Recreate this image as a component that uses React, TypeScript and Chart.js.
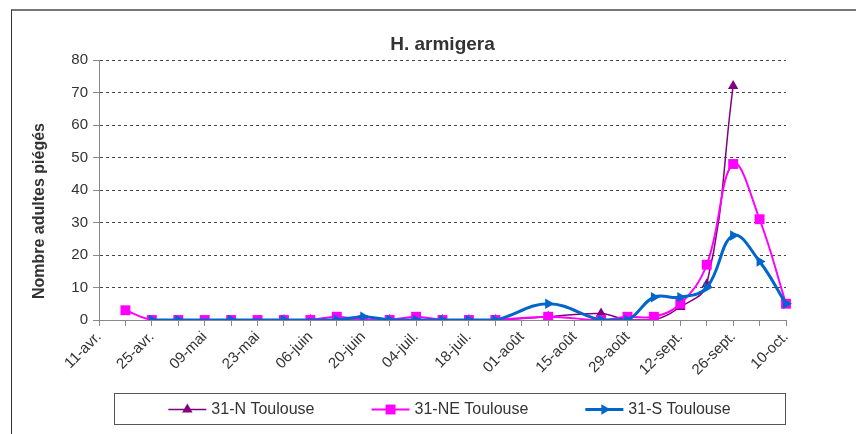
import React, { useEffect, useRef } from "react";
import { Chart, registerables } from "chart.js";

Chart.register(...registerables);

// Weekly dates (labels shown every other week)
const dates = [
  "11-avr.", "18-avr.", "25-avr.", "02-mai", "09-mai", "16-mai", "23-mai", "30-mai",
  "06-juin", "13-juin", "20-juin", "27-juin", "04-juil.", "11-juil.", "18-juil.", "25-juil.",
  "01-août", "08-août", "15-août", "22-août", "29-août", "05-sept.", "12-sept.", "19-sept.",
  "26-sept.", "03-oct.", "10-oct.",
];
const labelEvery = 2;

const seriesN = [null, null, null, null, null, null, null, 0, 0, 0, 0, 0, 0, 0, 0, 0, null, 1, null, 2, 0, 0, 4, 11, 72, null, null];
const seriesNE = [null, 3, 0, 0, 0, 0, 0, 0, 0, 1, 0, 0, 1, 0, 0, 0, null, 1, null, 0, 1, 1, 5, 17, 48, 31, 5];
const seriesS = [null, null, 0, 0, null, 0, null, 0, null, 0, 1, 0, 0, 0, 0, 0, null, 5, null, 0, 0, 7, 7, 10, 26, 18, 5];

const seriesNames = ["31-N Toulouse", "31-NE Toulouse", "31-S Toulouse"];
const yTicks = { min: 0, max: 80, step: 10 };
const chartTitle = "H. armigera";
const yTitle = "Nombre adultes piégés";

const FONT = '"Liberation Sans", Arial, sans-serif';
const TEXT = "#333333";

function drawMarker(ctx: CanvasRenderingContext2D, style: string, x: number, y: number, r: number, color: string) {
  ctx.save();
  ctx.fillStyle = color;
  ctx.beginPath();
  if (style === "rect") {
    const s = r * Math.SQRT1_2;
    ctx.rect(x - s, y - s, 2 * s, 2 * s);
  } else if (style === "triangle-right") {
    ctx.moveTo(x + r, y);
    ctx.lineTo(x - r / 2, y - r * 0.866);
    ctx.lineTo(x - r / 2, y + r * 0.866);
    ctx.closePath();
  } else {
    ctx.moveTo(x, y - r);
    ctx.lineTo(x + r * 0.866, y + r / 2);
    ctx.lineTo(x - r * 0.866, y + r / 2);
    ctx.closePath();
  }
  ctx.fill();
  ctx.restore();
}

const textPlugin = {
  id: "customText",
  afterDraw(chart: any) {
    const { ctx, chartArea } = chart;
    ctx.save();
    // title
    ctx.fillStyle = TEXT;
    ctx.font = `bold 19px ${FONT}`;
    ctx.textAlign = "center";
    ctx.textBaseline = "middle";
    ctx.fillText(chartTitle, (chartArea.left + chartArea.right) / 2, chartArea.top - 15);
    // y title
    ctx.save();
    ctx.translate(40, (chartArea.top + chartArea.bottom) / 2 + 21);
    ctx.rotate(-Math.PI / 2);
    ctx.font = `bold 16px ${FONT}`;
    ctx.fillText(yTitle, 0, 0);
    ctx.restore();

    // legend box
    const left = chartArea.left + 15;
    const right = chartArea.right - 1;
    const top = chartArea.bottom + 73;
    const bottom = top + 31;
    ctx.strokeStyle = "#555";
    ctx.lineWidth = 1;
    ctx.strokeRect(left + 0.5, top + 0.5, right - left, bottom - top);

    ctx.font = `16px ${FONT}`;
    const sample = 38;
    const gapText = 5;
    const gapItems = 57;
    const datasets = chart.data.datasets;
    const widths = datasets.map((d: any) => sample + gapText + ctx.measureText(d.label).width);
    const total = widths.reduce((a: number, b: number) => a + b, 0) + gapItems * (widths.length - 1);
    let x = (left + right) / 2 - total / 2;
    const cy = (top + bottom) / 2 + 1;
    datasets.forEach((d: any, i: number) => {
      ctx.strokeStyle = d.borderColor;
      ctx.lineWidth = d.borderWidth;
      ctx.beginPath();
      ctx.moveTo(x, cy);
      ctx.lineTo(x + sample, cy);
      ctx.stroke();
      drawMarker(ctx, d.legendMarker, x + sample / 2, cy, d.pointRadius, d.borderColor);
      ctx.fillStyle = TEXT;
      ctx.textAlign = "left";
      ctx.textBaseline = "middle";
      ctx.fillText(d.label, x + sample + gapText, cy);
      x += widths[i] + gapItems;
    });
    ctx.restore();
  },
};

export default function App() {
  const ref = useRef<HTMLCanvasElement | null>(null);

  useEffect(() => {
    if (!ref.current) return;
    const chart = new Chart(ref.current, {
      type: "line",
      data: {
        labels: dates,
        datasets: [
          {
            label: seriesNames[0],
            data: seriesN,
            borderColor: "#800080",
            backgroundColor: "#800080",
            borderWidth: 1.5,
            pointStyle: "triangle",
            pointRadius: 6,
            pointBorderWidth: 0,
            tension: 0.4,
            spanGaps: true,
            order: 3,
            legendMarker: "triangle",
          } as any,
          {
            label: seriesNames[1],
            data: seriesNE,
            borderColor: "#ff00ff",
            backgroundColor: "#ff00ff",
            borderWidth: 2,
            pointStyle: "rect",
            pointRadius: 7,
            pointBorderWidth: 0,
            tension: 0.4,
            spanGaps: true,
            order: 2,
            legendMarker: "rect",
          } as any,
          {
            label: seriesNames[2],
            data: seriesS,
            borderColor: "#0066cc",
            backgroundColor: "#0066cc",
            borderWidth: 3,
            pointStyle: "triangle",
            pointRotation: 90,
            pointRadius: 6,
            pointBorderWidth: 0,
            tension: 0.4,
            spanGaps: true,
            order: 1,
            legendMarker: "triangle-right",
          } as any,
        ],
      },
      options: {
        responsive: true,
        maintainAspectRatio: false,
        animation: false,
        layout: { padding: { left: 0, right: 70, top: 60, bottom: 44 } },
        plugins: {
          legend: { display: false },
          title: { display: false },
          tooltip: { enabled: false },
        },
        scales: {
          x: {
            type: "category",
            offset: false,
            grid: {
              display: true,
              drawOnChartArea: false,
              drawTicks: true,
              tickLength: 6,
              tickColor: "#888",
            },
            border: { display: true, color: "#888", width: 1 },
            ticks: {
              autoSkip: false,
              maxRotation: 45,
              minRotation: 45,
              padding: 2,
              color: TEXT,
              font: { family: FONT, size: 15 },
              callback: (_v: any, i: number) => (i % labelEvery === 0 ? dates[i] : ""),
            },
            afterFit: (s: any) => {
              s.height = 70;
            },
          },
          y: {
            min: yTicks.min,
            max: yTicks.max,
            ticks: {
              stepSize: yTicks.step,
              padding: 5,
              color: TEXT,
              font: { family: FONT, size: 15 },
            },
            grid: {
              color: "#444",
              lineWidth: 1,
              drawTicks: true,
              tickLength: 6,
              tickColor: "#888",
            },
            border: { display: true, color: "#888", width: 1, dash: [3, 3] },
            afterFit: (s: any) => {
              s.width = 99;
            },
          },
        },
      } as any,
      plugins: [textPlugin],
    });
    return () => chart.destroy();
  }, []);

  return (
    <div
      style={{
        position: "absolute",
        left: 0,
        top: 0,
        width: 856,
        height: 434,
        overflow: "hidden",
        background: "#fff",
      }}
    >
      <div
        style={{
          position: "absolute",
          left: 11,
          top: 9,
          right: -5,
          bottom: -5,
          borderTop: "2px solid #777",
          borderLeft: "1px solid #333",
        }}
      />
      <canvas ref={ref} style={{ position: "absolute", left: 0, top: 0 }} />
    </div>
  );
}
